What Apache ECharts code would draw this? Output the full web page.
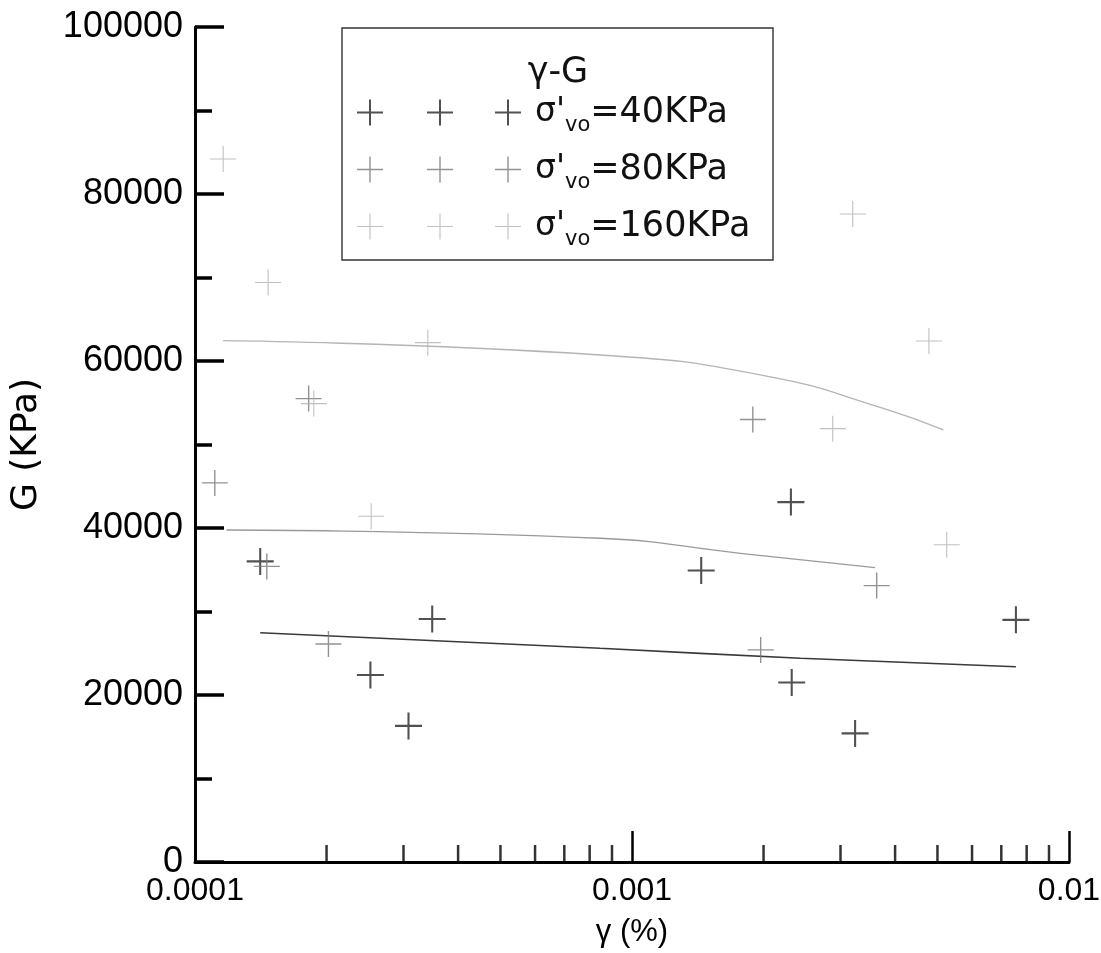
<!DOCTYPE html>
<html>
<head>
<meta charset="utf-8">
<script src="https://cdn.jsdelivr.net/npm/echarts@6/dist/echarts.min.js"></script>
<style>
  html, body { margin: 0; padding: 0; background: #ffffff; }
  #chart { width: 1101px; height: 953px; }
</style>
</head>
<body>
<div id="chart"></div>
<script>
// Shear strain γ (%) against shear modulus G (KPa) for three effective vertical stresses.
const seriesNames = ['40KPa', '80KPa', '160KPa'];

// measured points, σ'vo = 40 KPa
const gamma40 = [1.41e-4, 2.52e-4, 3.08e-4, 3.49e-4, 1.44e-3, 2.31e-3, 2.32e-3, 3.24e-3, 7.56e-3];
const g40     = [36000,   22400,   16300,   29100,   34900,   43100,   21500,   15400,   29000];

// measured points, σ'vo = 80 KPa
const gamma80 = [1.11e-4, 1.46e-4, 1.82e-4, 2.02e-4, 1.89e-3, 1.97e-3, 3.63e-3];
const g80     = [45400,   35400,   55500,   26100,   53000,   25400,   33100];

// measured points, σ'vo = 160 KPa
const gamma160 = [1.16e-4, 1.47e-4, 1.87e-4, 2.53e-4, 3.41e-4, 2.88e-3, 3.20e-3, 4.78e-3, 5.25e-3];
const g160     = [84200,   69400,   54900,   41400,   62200,   51900,   77600,   62400,   38000];

// fitted trend curves
const fitGamma40 = [1.41e-4, 8.45e-4, 2.43e-3, 7.56e-3];
const fitG40     = [27460,   25590,   24400,   23390];
const fitGamma80 = [1.18e-4, 8.45e-4, 1.77e-3, 3.60e-3];
const fitG80     = [39760,   38770,   36970,   35250];
const fitGamma160 = [1.16e-4, 8.45e-4, 2.03e-3, 3.76e-3, 5.16e-3];
const fitG160     = [62430,   60720,   58200,   54340,   51740];

// axis ticks
const xTickLabels = ['0.0001', '0.001', '0.01'];
const xMinorTicks = [2e-4, 3e-4, 4e-4, 5e-4, 6e-4, 7e-4, 8e-4, 9e-4,
                     2e-3, 3e-3, 4e-3, 5e-3, 6e-3, 7e-3, 8e-3, 9e-3];

const FONT = '"Liberation Sans", Arial, sans-serif';
const WIDE = '"DejaVu Sans", "Liberation Sans", sans-serif';

// plus-shaped marker, bar thickness t inside a 26x26 box
function plusPath(t) {
  const a = 13 - t / 2, b = 13 + t / 2;
  return 'path://M0,' + a + ' L26,' + a + ' L26,' + b + ' L0,' + b + ' Z ' +
         'M' + a + ',0 L' + b + ',0 L' + b + ',26 L' + a + ',26 Z';
}
// three plus signs in a row for the legend key
function legendPath(t) {
  const centers = [13, 83, 151];
  let p = 'path://';
  centers.forEach(function (c) {
    const a = 13 - t / 2, b = 13 + t / 2;
    p += 'M' + (c - 13) + ',' + a + ' L' + (c + 13) + ',' + a + ' L' + (c + 13) + ',' + b + ' L' + (c - 13) + ',' + b + ' Z ';
    p += 'M' + (c - t / 2) + ',0 L' + (c + t / 2) + ',0 L' + (c + t / 2) + ',26 L' + (c - t / 2) + ',26 Z ';
  });
  return p;
}
function pairs(xs, ys) { return xs.map(function (x, i) { return [x, ys[i]]; }); }

const colors = ['#262626', '#777777', '#b0b0b0'];
const thick = [2, 1.4, 1.1];

const chart = echarts.init(document.getElementById('chart'), null, { renderer: 'canvas' });

const option = {
  animation: false,
  backgroundColor: '#ffffff',
  grid: { left: 195, right: 32, top: 27, bottom: 91, containLabel: false, outerBoundsMode: 'none' },
  xAxis: {
    type: 'log',
    logBase: 10,
    min: 1e-4,
    max: 1e-2,
    interval: 1,
    name: 'γ (%)',
    nameLocation: 'middle',
    nameGap: 55,
    nameTextStyle: { fontFamily: FONT, fontSize: 31, color: '#000' },
    axisLine: { show: true, onZero: false, lineStyle: { color: '#000', width: 3 } },
    axisTick: { show: true, inside: true, length: 31, lineStyle: { color: '#000', width: 2.5 } },
    axisLabel: {
      fontFamily: FONT, fontSize: 32, color: '#000', margin: 13,
      formatter: function (v) { return xTickLabels[Math.round(Math.log10(v)) + 4]; }
    },
    splitLine: { show: false }
  },
  yAxis: {
    type: 'value',
    min: 0,
    max: 100000,
    interval: 20000,
    name: 'G (KPa)',
    nameLocation: 'middle',
    nameGap: 150,
    nameTextStyle: { fontFamily: WIDE, fontSize: 36, color: '#000' },
    axisLine: { show: true, lineStyle: { color: '#000', width: 3 } },
    axisTick: { show: true, inside: true, length: 29, lineStyle: { color: '#000', width: 3.5 } },
    minorTick: { show: true, splitNumber: 2, length: 17, lineStyle: { color: '#000', width: 3.5 } },
    axisLabel: {
      fontFamily: FONT, fontSize: 36, color: '#000', margin: 12,
      formatter: function (v) { return String(v); }
    },
    splitLine: { show: false }
  },
  legend: {
    orient: 'vertical',
    left: 357,
    top: 95,
    padding: 0,
    itemWidth: 164,
    itemHeight: 26,
    itemGap: 16,
    selectedMode: false,
    data: seriesNames.map(function (n, i) { return { name: n, icon: legendPath(thick[i]) }; }),
    formatter: function (name) { return '{p|σ\'}{s|vo}{m|=' + name + '}'; },
    textStyle: {
      color: '#111',
      rich: {
        p: { fontFamily: WIDE, fontSize: 33, color: '#111', padding: [0, 0, 0, 9] },
        s: { fontFamily: WIDE, fontSize: 21, color: '#111', padding: [26, 0, 0, 0] },
        m: { fontFamily: WIDE, fontSize: 35, color: '#111' }
      }
    }
  },
  graphic: [
    {
      type: 'rect', z: 1,
      shape: { x: 342, y: 28, width: 431, height: 232 },
      style: { fill: 'none', stroke: '#333', lineWidth: 1.4 }
    },
    {
      type: 'text', z: 2,
      style: { x: 558, y: 73, text: 'γ-G', fontFamily: WIDE, fontSize: 35, fill: '#111',
               textAlign: 'center', textVerticalAlign: 'middle' }
    }
  ],
  series: [
    {
      name: seriesNames[0], type: 'scatter', z: 4,
      symbol: plusPath(thick[0]), symbolSize: 27,
      itemStyle: { color: colors[0] },
      data: pairs(gamma40, g40)
    },
    {
      name: seriesNames[1], type: 'scatter', z: 4,
      symbol: plusPath(thick[1]), symbolSize: 26,
      itemStyle: { color: colors[1] },
      data: pairs(gamma80, g80)
    },
    {
      name: seriesNames[2], type: 'scatter', z: 4,
      symbol: plusPath(thick[2]), symbolSize: 26,
      itemStyle: { color: colors[2] },
      data: pairs(gamma160, g160)
    },
    {
      name: 'fit40', type: 'line', smooth: true, showSymbol: false, z: 3,
      lineStyle: { color: '#3a3a3a', width: 1.6 },
      data: pairs(fitGamma40, fitG40)
    },
    {
      name: 'fit80', type: 'line', smooth: true, showSymbol: false, z: 3,
      lineStyle: { color: '#9a9a9a', width: 1.3 },
      data: pairs(fitGamma80, fitG80)
    },
    {
      name: 'fit160', type: 'line', smooth: true, showSymbol: false, z: 3,
      lineStyle: { color: '#b4b4b4', width: 1.3 },
      data: pairs(fitGamma160, fitG160)
    },
    {
      // minor ticks of the logarithmic strain axis, standing on the baseline
      name: 'xMinor', type: 'scatter', silent: true, z: 6, clip: false,
      symbol: 'rect', symbolSize: [2.5, 17], symbolOffset: [0, -8.5],
      itemStyle: { color: '#000' },
      data: xMinorTicks.map(function (v) { return [v, 0]; })
    }
  ]
};

chart.setOption(option);
</script>
</body>
</html>
